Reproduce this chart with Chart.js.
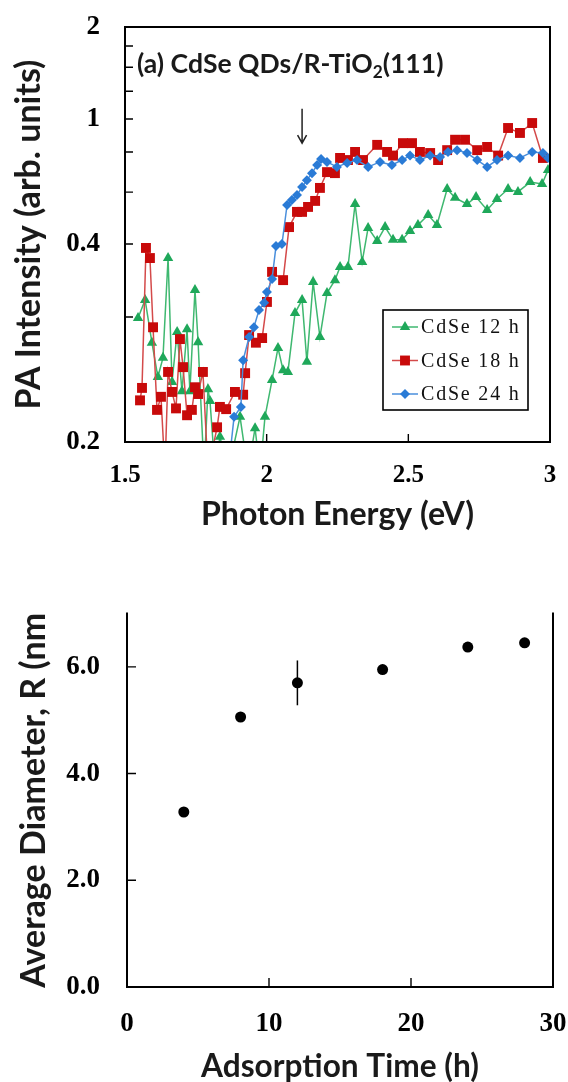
<!DOCTYPE html>
<html><head><meta charset="utf-8">
<script src="https://cdn.jsdelivr.net/npm/chart.js@4.4.0/dist/chart.umd.min.js"></script>
<style>
html,body{margin:0;padding:0;background:#fff;width:568px;height:1082px;overflow:hidden;position:relative}
#top{position:absolute;left:0;top:0;width:568px;height:560px}
#bot{position:absolute;left:0;top:608px;width:568px;height:490px}
</style></head><body>
<div id="top"><canvas id="c1"></canvas></div>
<div id="bot"><canvas id="c2"></canvas></div>
<script>
// ---------- Panel (a): PA spectra ----------
const SERIES_LABELS = ['CdSe 12 h', 'CdSe 18 h', 'CdSe 24 h'];
const ENERGY_12h = [1.546,1.571,1.595,1.616,1.634,1.652,1.666,1.684,1.701,1.719,1.729,1.747,1.758,1.779,1.793,1.800,1.818,1.835,1.864,1.906,1.934,1.959,1.977,1.994,2.019,2.040,2.058,2.075,2.100,2.125,2.142,2.164,2.188,2.213,2.241,2.259,2.287,2.312,2.337,2.358,2.390,2.418,2.446,2.478,2.506,2.534,2.570,2.601,2.637,2.665,2.707,2.739,2.778,2.813,2.852,2.887,2.930,2.972,2.993];
const PA_12h = [0.398,0.440,0.347,0.287,0.319,0.555,0.279,0.368,0.265,0.374,0.265,0.465,0.348,0.17,0.268,0.251,0.17,0.206,0.17,0.230,0.17,0.216,0.17,0.230,0.282,0.337,0.298,0.295,0.409,0.440,0.312,0.486,0.358,0.457,0.491,0.528,0.528,0.749,0.543,0.656,0.610,0.659,0.614,0.614,0.645,0.667,0.705,0.667,0.814,0.775,0.749,0.779,0.725,0.770,0.814,0.801,0.846,0.837,0.904];
const ENERGY_18h = [1.553,1.560,1.574,1.588,1.599,1.613,1.627,1.641,1.652,1.666,1.680,1.694,1.705,1.719,1.736,1.747,1.758,1.775,1.793,1.825,1.835,1.857,1.888,1.917,1.924,1.938,1.962,1.984,2.001,2.019,2.058,2.079,2.107,2.125,2.146,2.171,2.188,2.213,2.241,2.259,2.287,2.312,2.340,2.390,2.425,2.446,2.481,2.513,2.541,2.577,2.605,2.637,2.665,2.700,2.743,2.778,2.817,2.852,2.894,2.937,2.975];
const PA_18h = [0.252,0.270,0.587,0.555,0.378,0.239,0.257,0.17,0.295,0.264,0.241,0.354,0.303,0.232,0.239,0.271,0.261,0.295,0.17,0.217,0.243,0.240,0.264,0.260,0.293,0.362,0.347,0.356,0.435,0.514,0.491,0.659,0.717,0.717,0.737,0.762,0.819,0.894,0.889,0.967,0.956,1.00,0.956,1.04,1.00,0.98,1.05,1.05,1.00,0.994,0.956,1.01,1.07,1.07,1.01,1.028,0.98,1.142,1.111,1.174,0.967];
const ENERGY_24h = [1.864,1.885,1.909,1.917,1.938,1.955,1.973,1.991,2.001,2.019,2.033,2.054,2.072,2.089,2.107,2.125,2.142,2.160,2.178,2.192,2.213,2.248,2.284,2.319,2.358,2.400,2.442,2.478,2.506,2.541,2.577,2.612,2.640,2.672,2.707,2.743,2.778,2.813,2.852,2.894,2.937,2.975,2.993];
const PA_24h = [0.17,0.230,0.243,0.315,0.358,0.378,0.416,0.433,0.460,0.494,0.593,0.600,0.745,0.766,0.787,0.823,0.855,0.889,0.93,0.961,0.946,0.920,0.941,0.956,0.920,0.946,0.93,0.956,0.98,0.956,0.98,0.972,1.00,1.01,0.994,0.956,0.920,0.956,0.98,0.967,1.00,0.994,0.967];
const X1_TICKS = [1.5, 2, 2.5, 3];
const X1_TICK_LABELS = ['1.5', '2', '2.5', '3'];
const Y1_TICK_POS = [0.2, 0.6, 1.2, 2];
const Y1_TICK_LABELS = ['0.2', '0.4', '1', '2'];
const Y1_MINOR = [0.2,0.4,0.6,0.8,1.0,1.2,1.4,1.6,1.8,2.0];
const X1_MINOR = [2, 2.5];
const PANEL_TITLE = ['(a) CdSe QDs/R-TiO', '2', '(111)'];
const ARROW = {x: 2.125, yFrom: 1.27, yTo: 1.05};

// ---------- Panel (b): average diameter ----------
const TIME_H = [4, 8, 12, 18, 24, 28];
const DIAMETER_NM = [3.28, 5.06, 5.70, 5.95, 6.37, 6.45];
const DIAMETER_ERR = [0, 0, 0.42, 0, 0, 0];
const X2_TICKS = [0, 10, 20, 30];
const Y2_TICKS = [0, 2, 4, 6];
const Y2_TICK_LABELS = ['0.0', '2.0', '4.0', '6.0'];
const X2_MINOR = [10, 20];
const Y2_MINOR = [2, 4, 6];

// ---------- helpers ----------
const SANS = 'Lato, "DejaVu Sans", sans-serif';
const SERIF = '"Liberation Serif", "Times New Roman", serif';
function fitSize(text, family, target){
  const c = document.createElement('canvas').getContext('2d');
  c.font = 'bold 100px ' + family;
  return 100 * target / c.measureText(text).width;
}
const zeroPad = s => { s.paddingLeft = 0; s.paddingRight = 0; s.paddingTop = 0; s.paddingBottom = 0; };

const framePlugin = {
  id: 'frame',
  afterDatasetsDraw(chart, args, o){
    const {ctx, chartArea: a, scales: {x, y}} = chart;
    ctx.save();
    ctx.strokeStyle = '#000';
    ctx.lineWidth = o.lw;
    ctx.lineCap = 'square';
    ctx.beginPath();
    if (o.sides.includes('top')) { ctx.moveTo(a.left, a.top); ctx.lineTo(a.right, a.top); }
    if (o.sides.includes('right')) { ctx.moveTo(a.right, a.top); ctx.lineTo(a.right, a.bottom); }
    if (o.sides.includes('bottom')) { ctx.moveTo(a.left, a.bottom); ctx.lineTo(a.right, a.bottom); }
    if (o.sides.includes('left')) { ctx.moveTo(a.left, a.top); ctx.lineTo(a.left, a.bottom); }
    ctx.stroke();
    ctx.lineWidth = 1.4;
    ctx.lineCap = 'butt';
    ctx.beginPath();
    for (const v of o.yTicks) { const p = y.getPixelForValue(v); ctx.moveTo(a.left, p); ctx.lineTo(a.left + o.len, p); }
    for (const v of o.xTicks) { const p = x.getPixelForValue(v); ctx.moveTo(p, a.bottom); ctx.lineTo(p, a.bottom - o.len); }
    ctx.stroke();
    ctx.restore();
  }
};

function drawMarker(ctx, style, r, x, y){
  ctx.beginPath();
  if (style === 'triangle') {
    ctx.moveTo(x, y - r);
    ctx.lineTo(x + r * Math.sin(2 * Math.PI / 3), y - r * Math.cos(2 * Math.PI / 3));
    ctx.lineTo(x + r * Math.sin(4 * Math.PI / 3), y - r * Math.cos(4 * Math.PI / 3));
  } else if (style === 'rect') {
    const s = r * Math.SQRT1_2;
    ctx.rect(x - s, y - s, 2 * s, 2 * s);
  } else {
    ctx.moveTo(x - r, y); ctx.lineTo(x, y - r); ctx.lineTo(x + r, y); ctx.lineTo(x, y + r);
  }
  ctx.closePath();
  ctx.fill();
}

const panelAPlugin = {
  id: 'panelA',
  afterDatasetsDraw(chart){
    const {ctx, chartArea: a, scales: {x, y}} = chart;
    ctx.save();
    // panel title with subscript
    const full = PANEL_TITLE.join('');
    const s = fitSize(full, SANS, 312);
    ctx.fillStyle = '#1a1a1a';
    ctx.textBaseline = 'alphabetic';
    let tx = a.left + 12;
    const base = a.top + 36 + s * 0.36;
    ctx.font = 'bold ' + s + 'px ' + SANS;
    ctx.fillText(PANEL_TITLE[0], tx, base); tx += ctx.measureText(PANEL_TITLE[0]).width;
    ctx.font = 'bold ' + (s * 0.65) + 'px ' + SANS;
    ctx.fillText(PANEL_TITLE[1], tx, base + s * 0.2); tx += ctx.measureText(PANEL_TITLE[1]).width;
    ctx.font = 'bold ' + s + 'px ' + SANS;
    ctx.fillText(PANEL_TITLE[2], tx, base);
    // arrow
    const ax = x.getPixelForValue(ARROW.x);
    const y0 = y.getPixelForValue(ARROW.yFrom), y1 = y.getPixelForValue(ARROW.yTo);
    ctx.strokeStyle = '#222'; ctx.lineWidth = 1.5;
    ctx.beginPath();
    ctx.moveTo(ax, y0); ctx.lineTo(ax, y1);
    ctx.moveTo(ax - 4.5, y1 - 8); ctx.lineTo(ax, y1); ctx.lineTo(ax + 4.5, y1 - 8);
    ctx.stroke();
    // legend
    const lx = a.left + 258, ly = a.top + 283, lw = 145, lh = 100;
    ctx.fillStyle = '#fff';
    ctx.fillRect(lx, ly, lw, lh);
    ctx.strokeStyle = '#000'; ctx.lineWidth = 1.6;
    ctx.strokeRect(lx, ly, lw, lh);
    ctx.font = '20px ' + SERIF;
    ctx.textBaseline = 'middle';
    try { ctx.letterSpacing = '1.8px'; } catch(e) {}
    chart.data.datasets.forEach((d, i) => {
      const ry = ly + 17 + i * 33.5;
      ctx.strokeStyle = d.borderColor; ctx.lineWidth = 1.5;
      ctx.beginPath(); ctx.moveTo(lx + 9, ry); ctx.lineTo(lx + 35, ry); ctx.stroke();
      ctx.fillStyle = d.pointBackgroundColor;
      drawMarker(ctx, d.pointStyle, d.pointRadius, lx + 22, ry);
      ctx.fillStyle = '#111';
      ctx.fillText(d.label, lx + 38, ry + 1);
    });
    ctx.restore();
  }
};

const errorBarPlugin = {
  id: 'errbars',
  beforeDatasetsDraw(chart){
    const {ctx, scales: {x, y}} = chart;
    ctx.save();
    ctx.strokeStyle = '#000'; ctx.lineWidth = 1.5;
    ctx.beginPath();
    TIME_H.forEach((t, i) => {
      if (!DIAMETER_ERR[i]) return;
      const px = x.getPixelForValue(t);
      ctx.moveTo(px, y.getPixelForValue(DIAMETER_NM[i] - DIAMETER_ERR[i]));
      ctx.lineTo(px, y.getPixelForValue(DIAMETER_NM[i] + DIAMETER_ERR[i]));
    });
    ctx.stroke();
    ctx.restore();
  }
};

// ---------- Chart 1 ----------
const yt1 = 'PA Intensity (arb. units)', xt1 = 'Photon Energy (eV)';
const yt1s = fitSize(yt1, SANS, 350), xt1s = fitSize(xt1, SANS, 273);
const mk = (xs, ys) => xs.map((v, i) => ({x: v, y: ys[i]}));
new Chart(document.getElementById('c1'), {
  type: 'line',
  data: {datasets: [
    {label: SERIES_LABELS[0], data: mk(ENERGY_12h, PA_12h), borderColor: '#3fb870', pointBackgroundColor: '#1fa85a', pointBorderColor: '#1fa85a', pointStyle: 'triangle', pointRadius: 6, pointBorderWidth: 0, borderWidth: 1.5, order: 2},
    {label: SERIES_LABELS[1], data: mk(ENERGY_18h, PA_18h), borderColor: '#d44a4a', pointBackgroundColor: '#c80a0a', pointBorderColor: '#c80a0a', pointStyle: 'rect', pointRadius: 7, pointBorderWidth: 0, borderWidth: 1.5, order: 1},
    {label: SERIES_LABELS[2], data: mk(ENERGY_24h, PA_24h), borderColor: '#4a8fdc', pointBackgroundColor: '#2a7bd6', pointBorderColor: '#2a7bd6', pointStyle: 'rectRot', pointRadius: 5, pointBorderWidth: 0, borderWidth: 1.5, order: 0}
  ]},
  options: {
    animation: false, responsive: true, maintainAspectRatio: false, devicePixelRatio: 1,
    layout: {padding: {top: 27, right: 18, left: 0, bottom: 0}},
    plugins: {legend: {display: false}, tooltip: {enabled: false},
      frame: {sides: ['top','right','bottom','left'], lw: 2, len: 8, yTicks: Y1_MINOR, xTicks: X1_MINOR}},
    elements: {line: {tension: 0}},
    scales: {
      x: {type: 'linear', min: 1.5, max: 3,
        grid: {display: false, drawTicks: false}, border: {display: false},
        afterBuildTicks: s => { s.ticks = X1_TICKS.map(v => ({value: v})); },
        ticks: {callback: (v, i) => X1_TICK_LABELS[i], padding: 19, color: '#000', maxRotation: 0, autoSkip: false,
          font: {family: SERIF, size: 25, weight: 'bold'}},
        title: {display: true, text: xt1, color: '#1a1a1a', font: {family: SANS, size: xt1s, weight: 'bold'},
          padding: {top: 0, bottom: 45 - 0.6 * xt1s}},
        afterFit: s => { s.height = 118; zeroPad(s); }
      },
      y: {type: 'logarithmic', min: 0.2, max: 2,
        grid: {display: false, drawTicks: false}, border: {display: false},
        afterBuildTicks: s => { s.ticks = Y1_TICK_POS.map(v => ({value: v})); },
        ticks: {callback: (v, i) => Y1_TICK_LABELS[i], padding: 25, color: '#000', autoSkip: false,
          font: {family: SERIF, size: 27, weight: 'bold'}},
        title: {display: true, text: yt1, color: '#1a1a1a', font: {family: SANS, size: yt1s, weight: 'bold'},
          padding: {top: 29 - 0.6 * yt1s, bottom: 0}},
        afterFit: s => { s.width = 125; zeroPad(s); }
      }
    }
  },
  plugins: [framePlugin, panelAPlugin]
});

// ---------- Chart 2 ----------
const yt2 = 'Average Diameter, R (nm', xt2 = 'Adsorption Time (h)';
const yt2s = fitSize(yt2, SANS, 375), xt2s = fitSize(xt2, SANS, 278);
new Chart(document.getElementById('c2'), {
  type: 'scatter',
  data: {datasets: [{label: 'R', data: mk(TIME_H, DIAMETER_NM), pointRadius: 5.5, pointBackgroundColor: '#000', pointBorderColor: '#000', pointBorderWidth: 0}]},
  options: {
    animation: false, responsive: true, maintainAspectRatio: false, devicePixelRatio: 1,
    layout: {padding: {top: 5, right: 15, left: 0, bottom: 0}},
    plugins: {legend: {display: false}, tooltip: {enabled: false},
      frame: {sides: ['right','bottom','left'], lw: 2, len: 9, yTicks: Y2_MINOR, xTicks: X2_MINOR}},
    scales: {
      x: {type: 'linear', min: 0, max: 30,
        grid: {display: false, drawTicks: false}, border: {display: false},
        afterBuildTicks: s => { s.ticks = X2_TICKS.map(v => ({value: v})); },
        ticks: {callback: v => String(v), padding: 21, color: '#000', maxRotation: 0, autoSkip: false,
          font: {family: SERIF, size: 27, weight: 'bold'}},
        title: {display: true, text: xt2, color: '#1a1a1a', font: {family: SANS, size: xt2s, weight: 'bold'},
          padding: {top: 0, bottom: 31 - 0.6 * xt2s}},
        afterFit: s => { s.height = 111; zeroPad(s); }
      },
      y: {type: 'linear', min: 0, max: 7,
        grid: {display: false, drawTicks: false}, border: {display: false},
        afterBuildTicks: s => { s.ticks = Y2_TICKS.map(v => ({value: v})); },
        ticks: {callback: (v, i) => Y2_TICK_LABELS[i], padding: 27, color: '#000', autoSkip: false,
          font: {family: SERIF, size: 27, weight: 'bold'}},
        title: {display: true, text: yt2, color: '#1a1a1a', font: {family: SANS, size: yt2s, weight: 'bold'},
          padding: {top: 34 - 0.6 * yt2s, bottom: 0}},
        afterFit: s => { s.width = 127; zeroPad(s); }
      }
    }
  },
  plugins: [framePlugin, errorBarPlugin]
});
</script>
</body></html>
